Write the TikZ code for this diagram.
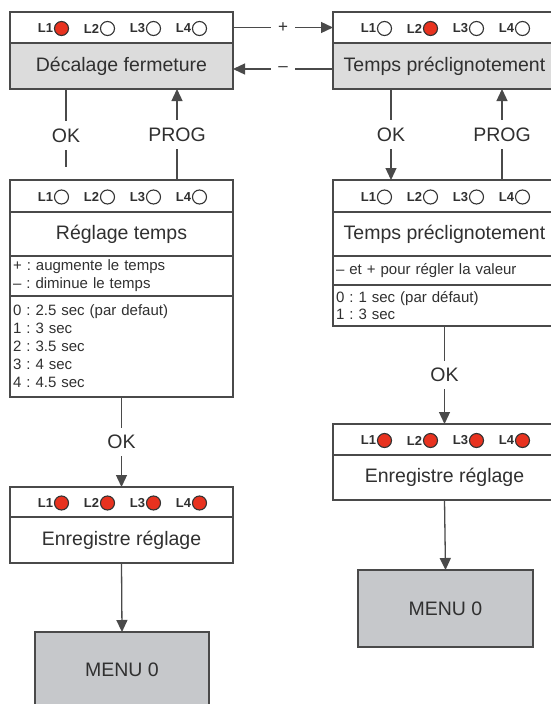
\documentclass[tikz,border=0pt]{standalone}
\usepackage{fontspec}
\setmainfont{Liberation Sans}
\usetikzlibrary{arrows.meta,calc}
\frenchspacing
\definecolor{txt}{HTML}{303030}
\definecolor{bord}{HTML}{4A4A4A}
\definecolor{grayA}{HTML}{DCDCDC}
\definecolor{grayM}{HTML}{C6C8CB}
\definecolor{ledred}{HTML}{E8321F}
\definecolor{ledbord}{HTML}{333333}
\newcommand\ttlfnt{\fontsize{19.5}{22}\selectfont}
\newcommand\smlfnt{\fontsize{15}{18}\selectfont}
\newcommand\ledfnt{\fontsize{13}{14}\selectfont\bfseries}
\newcommand\ledrow[5]{%
  \foreach \i/\f in {1/#2,2/#3,3/#4,4/#5} {
    \pgfmathsetmacro\ledx{(\i-2.5)*46+9}
    \node[ledc=\f] (#1c\i) at ([xshift=\ledx pt,yshift=-1pt]#1.center) {};
    \node[ledt, anchor=east] (#1t\i) at (#1c\i.west) {L\i};
  }}
\begin{document}
\begin{tikzpicture}[x=1pt,y=-1pt,
  every node/.style={text=txt},
  part/.style={draw=bord, line width=1.4pt, minimum width=223pt, inner sep=0pt, outer sep=0pt, font=\ttlfnt, fill=white},
  listpart/.style={part, font=\smlfnt, text width=217pt, inner xsep=3pt, align=left},
  menu/.style={draw=bord, line width=1.4pt, fill=grayM, inner sep=0pt, outer sep=0pt, font=\ttlfnt},
  ledc/.style={circle, draw=ledbord, line width=1.1pt, minimum size=14pt, inner sep=0pt, fill=#1},
  ledt/.style={font=\ledfnt, inner xsep=0.6pt, inner ysep=0pt},
  conn/.style={draw=bord, line width=1.3pt},
  arr/.style={-{Triangle[length=12pt,width=11pt]}},
  lbl/.style={fill=white, font=\ttlfnt, inner xsep=2pt, inner ysep=7.5pt},
  pm/.style={fill=white, font=\fontsize{17}{18}\selectfont, inner xsep=7pt, inner ysep=2pt}
]
\clip (0,0) rectangle (551,704);
\fill[white] (0,0) rectangle (551,704);

% left column
\node[part, minimum height=31pt] (A1) at (121.5,27.5) {};
\node[part, fill=grayA, minimum height=46pt, anchor=north] (A2) at (A1.south) {Décalage fermeture};
\ledrow{A1}{ledred}{white}{white}{white}

\node[part, minimum height=32pt] (B1) at (121.5,196) {};
\node[part, minimum height=44pt, anchor=north] (B2) at (B1.south) {Réglage temps};
\node[listpart, minimum height=40pt, anchor=north] (B3) at (B2.south) {+ : augmente le temps\\– : diminue le temps};
\node[listpart, minimum height=101pt, anchor=north] (B4) at (B3.south) {0 : 2.5 sec (par defaut)\\1 : 3 sec\\2 : 3.5 sec\\3 : 4 sec\\4 : 4.5 sec};
\ledrow{B1}{white}{white}{white}{white}

\node[part, minimum height=30pt] (C1) at (121.5,502) {};
\node[part, minimum height=46pt, anchor=north] (C2) at (C1.south) {Enregistre réglage};
\ledrow{C1}{ledred}{ledred}{ledred}{ledred}

\node[menu, minimum width=174pt, minimum height=76pt] (M1) at (122,670) {MENU 0};

% right column
\node[part, minimum height=31pt] (D1) at (444.5,27.5) {};
\node[part, fill=grayA, minimum height=46pt, anchor=north] (D2) at (D1.south) {Temps préclignotement};
\ledrow{D1}{white}{ledred}{white}{white}

\node[part, minimum height=32pt] (E1) at (444.5,196) {};
\node[part, minimum height=44pt, anchor=north] (E2) at (E1.south) {Temps préclignotement};
\node[listpart, minimum height=29pt, anchor=north] (E3) at (E2.south) {– et + pour régler la valeur};
\node[listpart, minimum height=41pt, anchor=north, font=\fontsize{15}{17}\selectfont] (E4) at (E3.south) {0 : 1 sec (par défaut)\\1 : 3 sec};
\ledrow{E1}{white}{white}{white}{white}

\node[part, minimum height=31pt] (F1) at (444.5,439.5) {};
\node[part, minimum height=45pt, anchor=north] (F2) at (F1.south) {Enregistre réglage};
\ledrow{F1}{ledred}{ledred}{ledred}{ledred}

\node[menu, minimum width=175pt, minimum height=77pt] (M2) at (445.5,608.5) {MENU 0};

% connectors
\draw[conn, arr] (A1.east) -- node[pm] (plus) {+} (D1.west);
\draw[conn, arr] ([yshift=-3pt]D2.west) -- node[pm] (minus) {–} ([yshift=-3pt]A2.east);
\draw[conn] ([xshift=-55.5pt]A2.south) -- node[lbl, pos=0.6] (okA) {OK} ([xshift=-55.5pt,yshift=13pt]B1.north);
\draw[conn, arr] ([xshift=55.5pt]B1.north) -- node[lbl] (progA) {PROG} ([xshift=55.5pt]A2.south);
\draw[conn, arr] ([xshift=-53.5pt]D2.south) -- node[lbl] (okD) {OK} ([xshift=-53.5pt]E1.north);
\draw[conn, arr] ([xshift=57.5pt]E1.north) -- node[lbl] (progD) {PROG} ([xshift=57.5pt]D2.south);
\draw[conn, arr] (B4.south) -- node[lbl] (okB) {OK} (C1.north);
\draw[conn, arr] (C2.south) -- (M1.north);
\draw[conn, arr] (E4.south) -- node[lbl] (okE) {OK} (F1.north);
\draw[conn, arr] (F2.south) -- (M2.north);
\end{tikzpicture}
\end{document}
